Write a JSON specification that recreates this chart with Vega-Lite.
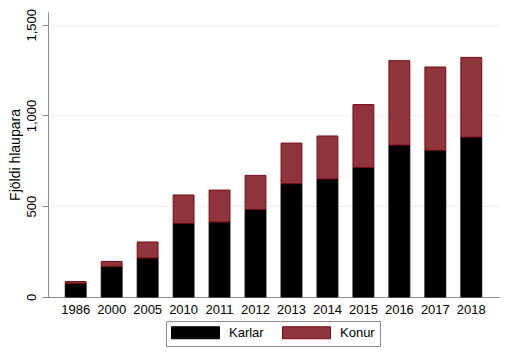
{
  "$schema": "https://vega.github.io/schema/vega-lite/v6.json",
  "autosize": "none",
  "width": 451,
  "height": 285,
  "padding": {"left": 48, "top": 12, "right": 13, "bottom": 61},
  "background": "white",
  "config": {
    "view": {"stroke": null},
    "font": "Liberation Sans",
    "axis": {"labelFont": "Liberation Sans", "titleFont": "Liberation Sans", "labelColor": "#000000", "titleColor": "#000000", "titleFontWeight": "normal"}
  },
  "data": {
    "values": [
      {"year": "1986", "sex": "Karlar", "n": 75},
      {"year": "1986", "sex": "Konur", "n": 10},
      {"year": "2000", "sex": "Karlar", "n": 169},
      {"year": "2000", "sex": "Konur", "n": 27},
      {"year": "2005", "sex": "Karlar", "n": 215},
      {"year": "2005", "sex": "Konur", "n": 88},
      {"year": "2010", "sex": "Karlar", "n": 406},
      {"year": "2010", "sex": "Konur", "n": 156},
      {"year": "2011", "sex": "Karlar", "n": 413},
      {"year": "2011", "sex": "Konur", "n": 176},
      {"year": "2012", "sex": "Karlar", "n": 483},
      {"year": "2012", "sex": "Konur", "n": 187},
      {"year": "2013", "sex": "Karlar", "n": 624},
      {"year": "2013", "sex": "Konur", "n": 224},
      {"year": "2014", "sex": "Karlar", "n": 650},
      {"year": "2014", "sex": "Konur", "n": 237},
      {"year": "2015", "sex": "Karlar", "n": 714},
      {"year": "2015", "sex": "Konur", "n": 346},
      {"year": "2016", "sex": "Karlar", "n": 837},
      {"year": "2016", "sex": "Konur", "n": 465},
      {"year": "2017", "sex": "Karlar", "n": 808},
      {"year": "2017", "sex": "Konur", "n": 459},
      {"year": "2018", "sex": "Karlar", "n": 881},
      {"year": "2018", "sex": "Konur", "n": 439}
    ]
  },
  "mark": {"type": "bar", "strokeWidth": 1},
  "encoding": {
    "x": {
      "field": "year", "type": "nominal", "sort": "ascending",
      "scale": {"paddingInner": 0.42, "paddingOuter": 0.48},
      "axis": {"title": null, "labelAngle": 0, "ticks": false, "labelFontSize": 13, "labelPadding": 6, "domainColor": "#8c8c8c", "grid": false}
    },
    "y": {
      "field": "n", "type": "quantitative", "aggregate": "sum", "stack": "zero",
      "scale": {"domain": [0, 1570], "nice": false},
      "axis": {
        "title": "Fjöldi hlaupara", "titleFontSize": 14, "titlePadding": 3,
        "values": [0, 500, 1000, 1500], "format": ",d",
        "labelAngle": -90, "labelFontSize": 13, "labelPadding": 4,
        "tickSize": 6, "tickColor": "#8c8c8c", "domainColor": "#8c8c8c",
        "grid": true, "gridColor": "#e8f0f1", "gridWidth": 1
      }
    },
    "color": {
      "field": "sex", "type": "nominal",
      "scale": {"domain": ["Karlar", "Konur"], "range": ["#000000", "#90353b"]},
      "legend": {
        "title": null, "orient": "none", "direction": "horizontal",
        "legendX": 118, "legendY": 309,
        "symbolType": "M-4,-1H4V1H-4Z", "symbolSize": 144,
        "symbolStrokeWidth": 1, "symbolOffset": 18,
        "labelOffset": 27, "labelFontSize": 13, "labelFont": "Liberation Sans", "labelColor": "#000000",
        "columnPadding": 16,
        "strokeColor": "#8c8c8c", "padding": 5, "cornerRadius": 0
      }
    },
    "stroke": {
      "field": "sex", "type": "nominal",
      "scale": {"domain": ["Karlar", "Konur"], "range": ["#000000", "#7a0a14"]},
      "legend": null
    },
    "order": {"field": "sex", "sort": "ascending"}
  }
}
